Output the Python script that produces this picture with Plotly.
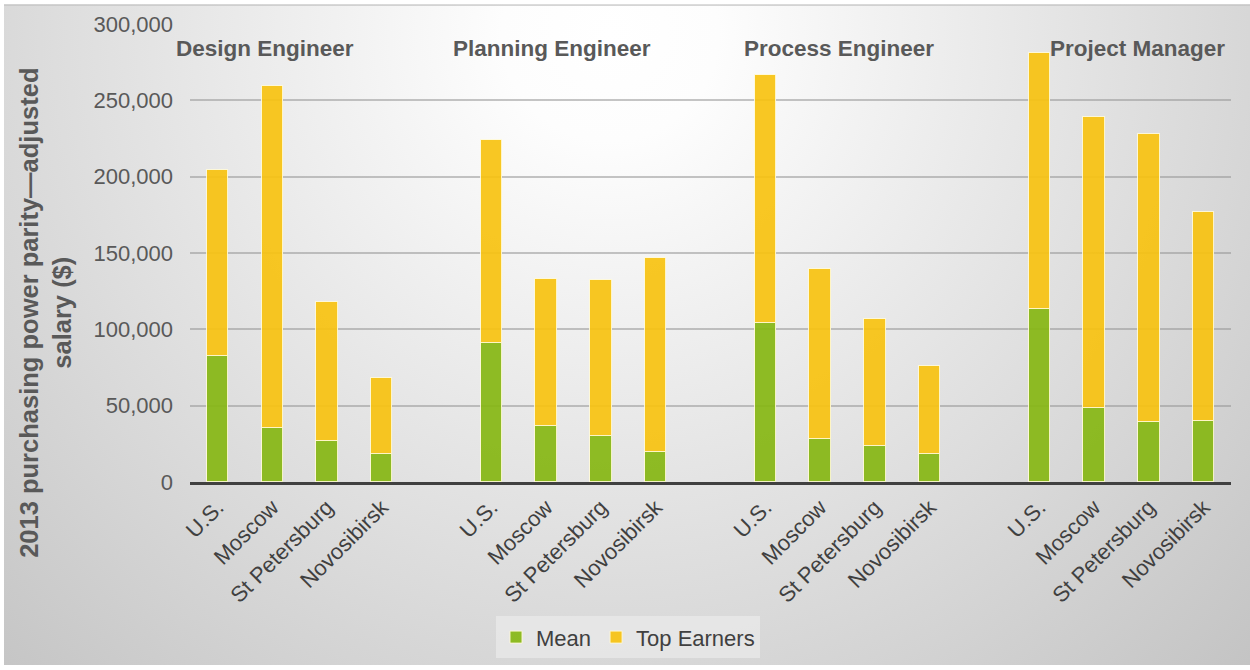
import base64
import plotly.graph_objects as go

# ---------------- data ----------------
groups = ["Design Engineer", "Planning Engineer", "Process Engineer", "Project Manager"]
cities = ["U.S.", "Moscow", "St Petersburg", "Novosibirsk"]

mean_design = [82600, 35500, 27000, 18300]
mean_planning = [91000, 36500, 30200, 19600]
mean_process = [104300, 28000, 23300, 18300]
mean_pm = [113000, 48700, 39100, 40200]

top_design = [121900, 223800, 90600, 49500]
top_planning = [133000, 96700, 101800, 126900]
top_process = [162300, 111300, 83400, 58000]
top_pm = [168000, 190100, 188900, 136700]

y_ticks = [0, 50000, 100000, 150000, 200000, 250000, 300000]

# ---------------- layout helpers ----------------
W, H = 1250, 670
L, R, T, B = 190, 19, 20, 187
pw, ph = W - L - R, H - T - B

means = mean_design + mean_planning + mean_process + mean_pm
tops = top_design + top_planning + top_process + top_pm
xpos = [g * 5 + i for g in range(len(groups)) for i in range(len(cities))]
xlabels = cities * len(groups)

GREEN = "rgba(134,183,20,0.93)"
YELLOW = "rgba(247,194,16,0.92)"
EDGE = dict(color="rgba(255,250,215,0.9)", width=1)

fig = go.Figure()
fig.add_trace(go.Bar(x=xpos, y=means, name="Mean", width=0.39,
                     marker=dict(color=GREEN, line=EDGE)))
fig.add_trace(go.Bar(x=xpos, y=tops, name="Top Earners", width=0.39,
                     marker=dict(color=YELLOW, line=EDGE)))

# radial gradient background as an SVG image
svg = (
    f'<svg xmlns="http://www.w3.org/2000/svg" width="{W}" height="{H}">'
    '<defs><radialGradient id="g" gradientUnits="userSpaceOnUse" cx="610" cy="30" r="900">'
    '<stop offset="0" stop-color="#ffffff"/>'
    '<stop offset="0.12" stop-color="#fdfdfd"/>'
    '<stop offset="0.68" stop-color="#d9d9d9"/>'
    '<stop offset="1" stop-color="#c4c4c4"/>'
    '</radialGradient></defs>'
    f'<rect x="4" y="0" width="{W-4}" height="{H-2}" fill="url(#g)"/>'
    f'<rect x="4" y="0" width="{W-4}" height="1.5" fill="#c4c4c4"/>'
    '</svg>'
)
src = "data:image/svg+xml;base64," + base64.b64encode(svg.encode()).decode()

fig.update_layout(
    width=W, height=H,
    margin=dict(l=L, r=R, t=T, b=B, pad=0),
    paper_bgcolor="white",
    plot_bgcolor="rgba(0,0,0,0)",
    barmode="stack",
    bargap=0,
    font=dict(family="Liberation Sans, Arial, sans-serif", color="#595959"),
    images=[dict(source=src, xref="paper", yref="paper",
                 x=-L / pw, y=1 + T / ph, sizex=W / pw, sizey=H / ph,
                 xanchor="left", yanchor="top", sizing="stretch", layer="below")],
    xaxis=dict(
        range=[-0.5, 18.5], tickmode="array", tickvals=xpos, ticktext=xlabels,
        tickangle=-45, tickfont=dict(size=22, color="#404040"),
        showgrid=False, zeroline=False, showline=True,
        linecolor="#404040", linewidth=2.5, ticks="", ticklabelstandoff=1,
    ),
    yaxis=dict(
        range=[0, 300000], tickmode="array", tickvals=y_ticks,
        ticktext=[f"{v:,}" for v in y_ticks],
        tickfont=dict(size=22, color="#595959"),
        showgrid=True, gridcolor="rgba(150,150,150,0.55)", gridwidth=2,
        zeroline=False, showline=False, ticks="", ticklabelstandoff=16,
    ),
    legend=dict(
        orientation="h", x=(628 - L) / pw, xanchor="center",
        y=(T + ph - 640) / ph, yanchor="middle",
        bgcolor="rgba(232,232,232,0.8)", font=dict(size=22, color="#404040"),
        itemwidth=30, traceorder="normal",
    ),
    showlegend=True,
)

# group labels
group_x = [0.86, 6.1, 11.34, 16.79]
for gname, gx in zip(groups, group_x):
    fig.add_annotation(text=f"<b>{gname}</b>", x=gx, xref="x",
                       y=(T + ph - 45) / ph, yref="paper",
                       showarrow=False, xanchor="center", yanchor="middle",
                       font=dict(size=22.5, color="#595959"))

# y-axis title
fig.add_annotation(text="<b>2013 purchasing power parity—adjusted<br>salary ($)</b>",
                   x=(46 - L) / pw, xref="paper", y=(T + ph - 312) / ph, yref="paper",
                   textangle=-90, showarrow=False, xanchor="center", yanchor="middle",
                   font=dict(size=25.5, color="#595959"))

fig.write_html("out.html")
